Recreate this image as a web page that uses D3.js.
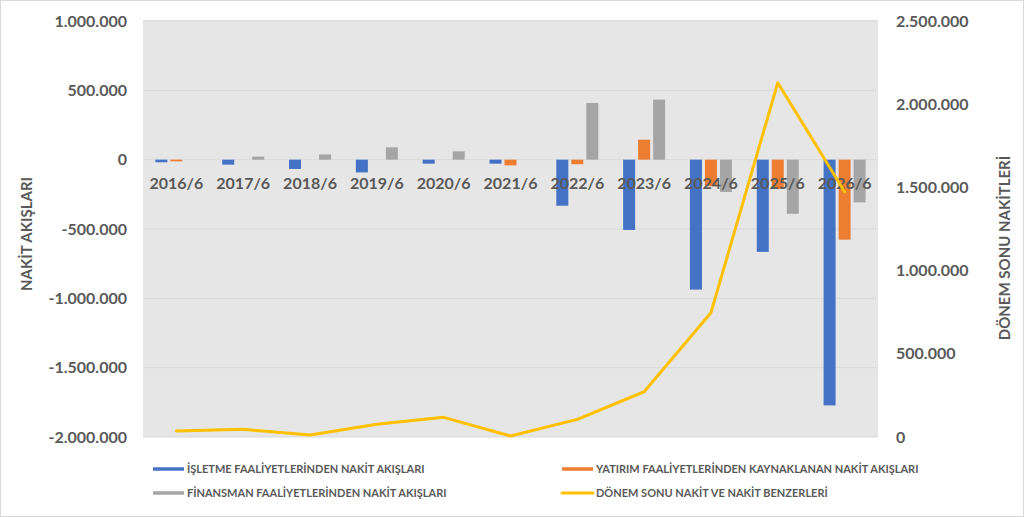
<!DOCTYPE html>
<html>
<head>
<meta charset="utf-8">
<script src="https://cdn.jsdelivr.net/npm/d3@7"></script>
<style>
  body { margin: 0; background: #fff; }
  #chart { width: 1024px; height: 517px; }
  text { font-family: Lato, "Open Sans", sans-serif; fill: #595959; font-weight: bold; }
</style>
</head>
<body>
<div id="chart"></div>
<script>
// kategoriler ve seriler
var categories = ["2016/6", "2017/6", "2018/6", "2019/6", "2020/6", "2021/6", "2022/6", "2023/6", "2024/6", "2025/6", "2026/6"];
var isletme   = [-19000, -36000, -67000, -92000, -29000, -29000, -332000, -507000, -937000, -665000, -1772000];
var yatirim   = [-12000, 0, 0, 0, 0, -41000, -33000, 144000, -192000, -211000, -577000];
var finansman = [0, 22000, 38000, 89000, 60000, 0, 409000, 433000, -233000, -390000, -308000];
var donemSonu = [36000, 46000, 12000, 76000, 118000, 6000, 106000, 272000, 747000, 2129000, 1474000];

var leftTicks  = [1000000, 500000, 0, -500000, -1000000, -1500000, -2000000];
var rightTicks = [2500000, 2000000, 1500000, 1000000, 500000, 0];

var seriesNames = [
    "İŞLETME FAALİYETLERİNDEN NAKİT AKIŞLARI",
    "YATIRIM FAALİYETLERİNDEN KAYNAKLANAN NAKİT AKIŞLARI",
    "FİNANSMAN FAALİYETLERİNDEN NAKİT AKIŞLARI",
    "DÖNEM SONU NAKİT VE NAKİT BENZERLERİ"
];
var colors = ["#4472C4", "#ED7D31", "#A5A5A5", "#FFC000"];

var W = 1024, H = 517;
var plot = {left: 143, right: 878, top: 21, bottom: 437};

// binlik ayırıcı nokta
var fmt = function(v) {
    return d3.format(",.0f")(v).replace(/,/g, ".").replace("−", "-");
};

var svg = d3.select("#chart").append("svg")
    .attr("width", W)
    .attr("height", H);

// dış çerçeve
svg.append("rect")
    .attr("x", 0.5).attr("y", 0.5)
    .attr("width", W - 1).attr("height", H - 1)
    .attr("fill", "#fff")
    .attr("stroke", "#D9D9D9");

svg.append("rect")
    .attr("x", plot.left).attr("y", plot.top - 1)
    .attr("width", plot.right - plot.left)
    .attr("height", plot.bottom - plot.top + 1)
    .attr("fill", "#E7E6E6");

var x0 = d3.scaleBand().domain(categories).range([plot.left, plot.right]);
var keys = [0, 1, 2];
var x1 = d3.scaleBand().domain(keys).range([-22.5, 22.5]).paddingInner(0.2).paddingOuter(0.1);
var yL = d3.scaleLinear().domain([-2000000, 1000000]).range([plot.bottom, plot.top]);
var yR = d3.scaleLinear().domain([0, 2500000]).range([plot.bottom, plot.top]);

// ızgara çizgileri
svg.append("g").selectAll("line")
    .data(leftTicks)
    .join("line")
    .attr("x1", plot.left).attr("x2", plot.right)
    .attr("y1", d => yL(d)).attr("y2", d => yL(d))
    .attr("stroke", "#D9D9D9")
    .attr("stroke-width", 1);

// sol eksen
var axL = svg.append("g")
    .attr("transform", "translate(" + (plot.left - 16) + ",0)")
    .call(d3.axisLeft(yL).tickValues(leftTicks).tickFormat(fmt).tickSize(0).tickPadding(0));
axL.select(".domain").remove();
axL.selectAll("text").style("font-size", "16px").style("font-family", "Lato, sans-serif").attr("fill", "#595959");

// sağ eksen
var axR = svg.append("g")
    .attr("transform", "translate(" + (plot.right + 18) + ",0)")
    .call(d3.axisRight(yR).tickValues(rightTicks).tickFormat(fmt).tickSize(0).tickPadding(0));
axR.select(".domain").remove();
axR.selectAll("text").style("font-size", "16px").style("font-family", "Lato, sans-serif").attr("fill", "#595959");

// çubuklar
var barData = [isletme, yatirim, finansman];
var groups = svg.append("g").selectAll("g")
    .data(categories)
    .join("g")
    .attr("transform", d => "translate(" + (x0(d) + x0.bandwidth() / 2) + ",0)");

groups.selectAll("rect")
    .data((c, i) => keys.map(k => ({k: k, v: barData[k][i]})))
    .join("rect")
    .filter(d => d.v !== 0)
    .attr("x", d => x1(d.k))
    .attr("width", x1.bandwidth())
    .attr("y", d => Math.min(yL(d.v), yL(0)))
    .attr("height", d => Math.abs(yL(d.v) - yL(0)))
    .attr("fill", d => colors[d.k]);

// kategori etiketleri
svg.append("g").selectAll("text")
    .data(categories)
    .join("text")
    .attr("x", d => x0(d) + x0.bandwidth() / 2)
    .attr("y", 189)
    .attr("text-anchor", "middle")
    .style("font-size", "16px")
    .text(d => d);

// çizgi
var line = d3.line()
    .x((d, i) => x0(categories[i]) + x0.bandwidth() / 2)
    .y(d => yR(d));

svg.append("path")
    .datum(donemSonu)
    .attr("d", line)
    .attr("fill", "none")
    .attr("stroke", colors[3])
    .attr("stroke-width", 3)
    .attr("stroke-linejoin", "round")
    .attr("stroke-linecap", "round");

// eksen başlıkları
svg.append("text")
    .attr("transform", "translate(32,234) rotate(-90)")
    .attr("text-anchor", "middle")
    .style("font-size", "15px")
    .text("NAKİT AKIŞLARI");

svg.append("text")
    .attr("transform", "translate(1010,248) rotate(-90)")
    .attr("text-anchor", "middle")
    .style("font-size", "15px")
    .text("DÖNEM SONU NAKİTLERİ");

// lejant
var legendPos = [
    {x: 153, y: 469},
    {x: 562, y: 469},
    {x: 153, y: 493},
    {x: 562, y: 493}
];
var lg = svg.append("g").selectAll("g")
    .data(seriesNames)
    .join("g")
    .attr("transform", (d, i) => "translate(" + legendPos[i].x + "," + legendPos[i].y + ")");

lg.append("line")
    .attr("x1", 0).attr("x2", 31)
    .attr("stroke", (d, i) => colors[i])
    .attr("stroke-width", (d, i) => i === 3 ? 3 : 3.5)
    .attr("stroke-linecap", (d, i) => i === 3 ? "round" : "butt");

lg.append("text")
    .attr("x", 34)
    .attr("dy", "0.35em")
    .style("font-size", "11px")
    .text(d => d);
</script>
</body>
</html>
